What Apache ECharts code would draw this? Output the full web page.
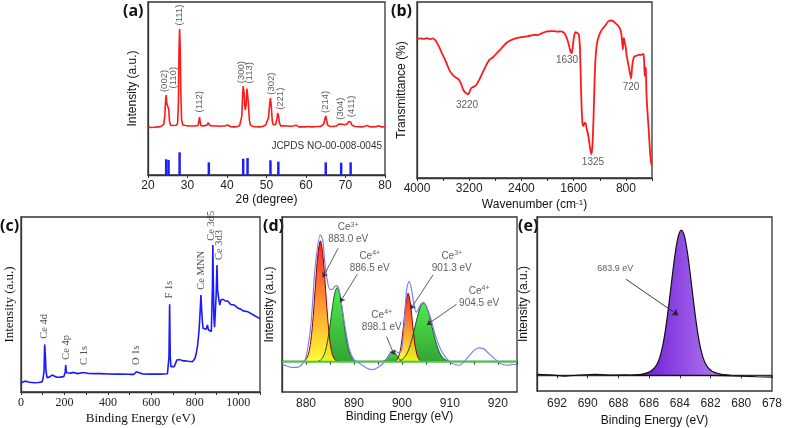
<!DOCTYPE html>
<html>
<head>
<meta charset="utf-8" />
<title>CeF3 characterization</title>
<script src="https://cdn.jsdelivr.net/npm/echarts@6/dist/echarts.min.js"></script>
<style>html,body{margin:0;padding:0;background:#fff;}</style>
</head>
<body>
<div id="main" style="width:785px;height:428px;"></div>
<script>
// (a) XRD pattern, 2theta vs intensity (a.u.)
var xrdPattern = [[20.0,27.8],[20.4,28.3],[20.8,27.5],[21.2,28.1],[21.6,27.6],[22.0,28.2],[22.4,27.8],[22.8,28.4],[23.2,27.9],[23.6,28.5],
  [24.0,29.3],[24.25,34],[24.45,43],[24.6,46.2],[24.75,41.5],[24.9,40.5],[25.1,41.6],[25.25,38],[25.45,31],[25.7,28.8],
  [26.0,28.2],[26.4,28.6],[26.8,28.1],[27.2,28.8],[27.5,30],[27.7,42],[27.85,72],[28.0,84.4],[28.15,74],[28.3,48],[28.5,32],[28.8,28.9],
  [29.1,28.2],[29.5,28.6],[29.9,27.9],[30.3,28.4],[30.7,27.8],[31.1,28.3],[31.5,27.9],[31.9,28.4],[32.3,28.0],[32.7,28.6],
  [32.9,31.5],[33.05,33.5],[33.2,31],[33.4,28.5],[33.7,28.0],[34.1,28.4],[34.5,28.1],[35.0,28.9],[35.2,30.2],[35.35,30.6],[35.5,29.5],[35.7,28.6],
  [36.0,28.1],[36.4,28.4],[36.8,27.9],[37.2,28.3],[37.6,27.8],[38.0,28.2],[38.4,27.9],[38.8,28.3],[39.2,28.0],[39.6,28.4],[39.9,28.2],
  [40.2,28.9],[40.5,28.3],[40.9,27.9],[41.3,28.3],[41.7,27.8],[42.1,28.2],[42.5,27.9],[42.9,28.4],[43.2,28.6],
  [43.5,29.2],[43.75,34],[43.95,46],[44.1,51.4],[44.3,48],[44.5,40],[44.65,37.6],[44.85,41],[45.05,50],[45.2,50.9],[45.4,42],[45.65,32],[45.9,29],
  [46.2,28.3],[46.6,28.0],[47.0,28.4],[47.4,27.9],[47.8,28.3],[48.2,27.8],[48.6,28.2],[49.0,28.0],[49.4,28.5],[49.8,28.9],[50.2,29.5],
  [50.5,33],[50.8,41],[51.0,44.5],[51.2,40],[51.45,31.5],[51.7,29],[52.0,28.6],[52.3,29.2],[52.6,32],[52.85,35.8],[53.05,34],[53.3,30],[53.6,28.4],
  [54.0,28.1],[54.4,28.4],[54.8,27.9],[55.2,28.3],[55.6,27.8],[56.0,28.2],[56.4,27.9],[56.8,28.3],[57.2,28.1],[57.5,28.8],[57.8,28.2],
  [58.2,27.8],[58.6,28.2],[59.0,27.9],[59.4,28.3],[59.8,27.8],[60.2,28.2],[60.6,28.0],[60.85,28.7],[61.1,28.1],[61.5,27.8],[61.9,28.2],
  [62.3,27.9],[62.6,28.4],[62.9,28.0],[63.3,28.3],[63.7,28.0],[64.1,28.5],[64.5,29.5],[64.8,32.5],[65.0,34.1],[65.2,32],[65.45,29],[65.7,28.3],
  [66.1,28.0],[66.5,28.4],[66.9,28.1],[67.3,28.5],[67.7,28.3],[68.1,28.8],[68.4,29.5],[68.6,30],[68.9,29],[69.2,29.3],[69.5,29.8],[69.8,29],
  [70.1,28.8],[70.5,29.6],[70.8,31],[71.1,31.8],[71.35,30.5],[71.6,28.9],[72.0,28.3],[72.4,28.0],[72.8,28.3],[73.2,27.9],[73.6,28.2],
  [74.0,27.8],[74.4,28.1],[74.8,28.0],[75.1,28.5],[75.4,28.7],[75.7,28.2],[76.1,27.9],[76.5,28.2],[76.9,27.8],[77.3,28.1],[77.7,27.9],
  [78.1,28.2],[78.4,28.5],[78.7,28.0],[79.1,27.8],[79.5,28.1],[80.0,27.9]];
var jcpdsPos = [24.6, 25.2, 28.0, 35.4, 44.1, 45.2, 51.0, 53.0, 65.0, 68.9, 71.3];
var jcpdsHeight = [9.1, 8.7, 13.1, 7.3, 9.4, 9.8, 8.5, 7.7, 7.3, 7.1, 7.3];
var hklText = ['(002)', '(110)', '(111)', '(112)', '(300)', '(113)', '(302)', '(221)', '(214)', '(304)', '(411)'];
var hklX = [24.2, 26.4, 28.0, 33.0, 43.7, 45.7, 51.2, 53.4, 65.0, 68.7, 71.5];
var hklY = [46.5, 48.6, 85.0, 34.7, 51.6, 51.4, 45.0, 36.2, 34.4, 30.5, 32.0];

// (b) FTIR, wavenumber vs transmittance
var ftirSpectrum = [[4000,79],[3950,79.3],[3900,79],[3850,79.4],[3800,78.9],[3760,79.3],[3720,78.3],[3690,76.5],[3660,74.5],[3620,71],
  [3580,68],[3540,64.5],[3500,61],[3450,58.5],[3400,57],[3360,56],[3320,53],[3290,50],[3260,48.5],[3240,48],[3220,47.5],[3200,48.5],
  [3180,50.5],[3150,51.5],[3120,52],[3090,53],[3060,55],[3030,57],[3000,59.5],[2960,62.5],[2920,65.5],[2880,67.5],[2840,68.5],[2800,70],
  [2750,72],[2700,74],[2650,76],[2600,77.5],[2550,78.5],[2500,79.2],[2400,80],[2300,80.6],[2200,81.3],[2150,81.2],[2100,82],[2050,82.8],
  [2000,83.3],[1950,83.4],[1900,83.5],[1850,83.2],[1800,83.3],[1760,82.8],[1730,81.5],[1700,79],[1680,76.5],[1660,73.5],[1645,71.5],
  [1630,71],[1615,74],[1600,79],[1585,82],[1570,82.8],[1550,82.5],[1530,82],[1520,81.5],[1505,75],[1495,62],[1480,42],[1465,31],
  [1450,29.5],[1430,31.5],[1415,31],[1400,28],[1380,25],[1360,20],[1340,15],[1325,13.5],[1310,20],[1295,35],[1280,55],[1265,68],
  [1245,76],[1220,80],[1180,83.5],[1120,86.5],[1070,89],[1020,89.5],[960,88],[900,85.5],[870,82],[855,76],[845,73],[838,79],[830,79.5],
  [820,77],[805,75],[790,70],[760,64],[740,60],[720,56.5],[705,63],[690,67],[670,69],[640,69.5],[600,70],[560,70],[530,70.5],[520,66],
  [512,58],[505,63],[495,62],[485,48],[470,38],[450,27],[430,15],[415,9],[400,7]];
var ftirBand = ['3220', '1630', '1325', '720'];
var ftirBandX = [3234, 1702, 1304, 722];
var ftirBandY = [41.2, 66.8, 8.8, 51.4];

// (c) XPS survey, binding energy vs intensity
var surveySpectrum = [[0,5.0],[5,4.6],[10,5.8],[15,6.9],[20,6.2],[30,5.9],[40,5.6],[60,5.3],[80,5.4],[97,5.8],[102,8],[106,12],[109,27.2],
  [112,21],[115,12],[120,8.2],[130,8.5],[143,9.7],[150,8.9],[165,8.4],[180,8.5],[197,8.8],[203,11],[206,15.4],[209,11],[215,10.3],
  [230,10.8],[243,11.2],[260,10.5],[280,11],[289,12],[295,11],[310,10.6],[340,10.5],[366,10.5],[400,10.3],[450,10.2],[500,10.1],
  [520,10.1],[528,10.8],[531,11.6],[535,10.6],[560,10.3],[600,10.2],[640,10.2],[674,10.4],[678,11.5],[681,20],[684,50.1],[687,20],
  [690,14.5],[695,13.5],[705,14.5],[712,16.5],[717,18.3],[725,17.3],[731,18.5],[738,18.9],[745,17.8],[755,17.9],[770,17.6],[789,17.3],
  [800,19],[805,21.1],[812,25.9],[818,33],[822,40.2],[826,50],[828,55.4],[831,48],[835,40],[838,36.4],[845,35.4],[852,35.8],[858,38.3],
  [863,35.4],[870,34.9],[876,34.6],[879,35],[881,60],[883,84],[885,65],[888,42],[891,37],[894,38],[898,55],[902,72.6],[905,58],
  [910,53.5],[915,49.7],[920,52.6],[930,53],[940,52],[951,52],[965,50],[982,49.7],[1000,47.8],[1010,47.5],[1020,46.5],[1043,45.9],
  [1070,44],[1097,42.1],[1100,41.9]];
var surveyText = ['Ce 4d', 'Ce 4p', 'C 1s', 'O 1s', 'F 1s', 'Ce MNN', 'Ce 3d5', 'Ce 3d3'];
var surveyX = [109, 206, 289, 531, 684, 828, 876, 914];
var surveyY = [29, 17, 14, 14, 52, 57, 85, 74];

// (d) Ce 3d high resolution
var ce3dEnvelope = [[875,-2],[876,-3],[877,-4],[878,-4],[879,-2.5],[880,3],[881,25],[882,68],[883,87.6],[883.5,84],[884,66],[884.5,55],
  [885,50],[885.5,50],[886,52],[886.5,52.5],[887,48],[888,27],[889,9],[890,1.5],[891,-1],[892,-3],[893,-5],[894,-5.5],[895,-4],
  [896,-1.5],[897,2.5],[898,6.5],[898.5,7.5],[899,6.5],[899.5,6],[900,9],[900.5,27],[901,50],[901.5,55.5],[902,50],[902.5,40],
  [903,34],[903.5,37],[904,40],[904.5,41],[905,39],[906,30],[907,18],[908,9],[909,3.5],[910,0],[911,-2],[912,-2.5],[913,0],[914,4],
  [915,7.5],[916,9.5],[917,9],[918,6],[919,3],[920,0],[921,-2],[922,-2.5],[923,-2],[924,-2]];
var ce3Peak883 = [[879.5,0.3],[880,1.5],[880.5,5],[881,14],[881.5,31],[882,54],[882.5,74.5],[883,83.5],[883.5,74.5],[884,54],
  [884.5,31],[885,14],[885.5,5],[886,1.5],[886.5,0.3]];
var ce4Peak886 = [[882.5,0.3],[883,1],[883.5,2.9],[884,6.9],[884.5,14.2],[885,24.9],[885.5,37.2],[886,47.3],[886.5,51.2],[887,47.3],
  [887.5,37.2],[888,24.9],[888.5,14.2],[889,6.9],[889.5,2.9],[890,1],[890.5,0.3]];
var ce4Peak898 = [[896.1,0.3],[896.6,1.3],[897.1,3.4],[897.6,6],[898.1,7.4],[898.6,6],[899.1,3.4],[899.6,1.3],[900.1,0.3]];
var ce3Peak901 = [[898.8,0.7],[899.3,3.2],[899.8,10.3],[900.3,23.7],[900.8,39.6],[901.3,47.3],[901.8,39.6],[902.3,23.7],[902.8,10.3],
  [903.3,3.2],[903.8,0.7]];
var ce4Peak904 = [[899.5,0.6],[900,1.4],[900.5,2.8],[901,5.3],[901.5,9.1],[902,14.4],[902.5,20.9],[903,27.9],[903.5,34.3],[904,38.8],
  [904.5,40.4],[905,38.8],[905.5,34.3],[906,27.9],[906.5,20.9],[907,14.4],[907.5,9.1],[908,5.3],[908.5,2.8],[909,1.4],[909.5,0.6]];
var ce3dBaseline = [[875,0],[924,0]];
var ceIon = ['3+', '4+', '4+', '3+', '4+'];
var ceEnergy = ['883.0 eV', '886.5 eV', '898.1 eV', '901.3 eV', '904.5 eV'];
var ceLabelX = [888.8, 893.3, 895.8, 910.4, 916.1];
var ceLabelY = [88.8, 68.9, 28.1, 69, 44.7];
var ceArrows = [[886.7,78.4,883.5,58.1],[890.7,60.4,887.1,41.1],[896.8,17.3,898.4,4.6],[906.5,60,901.8,36.2],[911.4,39.7,905.2,25.4]];

// (e) F 1s high resolution
var f1sPeak = [[687.1,0],[686.7,0.4],[686.3,1.0],[685.9,2.4],[685.7,3.8],[685.5,6.2],[685.3,10.5],[685.1,17.6],[684.9,28.3],[684.7,41.8],
  [684.5,56.6],[684.3,70.2],[684.1,80],[683.9,83.5],[683.7,80],[683.5,70.2],[683.3,56.6],[683.1,41.8],[682.9,28.3],[682.7,17.6],
  [682.5,10.5],[682.3,6.2],[682.1,3.8],[681.9,2.4],[681.5,1.0],[681.1,0.4],[680.7,0]];
var f1sBaseline = [[693.3,0.6],[692.5,0.3],[691.5,-0.4],[690.5,0.2],[689.5,0.5],[688.5,0.1],[687.5,0.3],[686.5,0],[682,0],[681,-0.2],
  [680,-0.5],[679,-0.8],[678,-1.0]];
var f1sLabel = [[688.2, 61.3, '683.9 eV']];
var f1sArrow = [[687.5, 55.2, 684.1, 34.5]];

var sans = 'Liberation Sans, Arial, sans-serif';
var serif = 'Liberation Serif, Times New Roman, serif';

function xAx(gi, o) {
  var a = {
    gridIndex: gi, type: 'value', nameLocation: 'middle',
    nameTextStyle: {fontFamily: sans, fontSize: 12, color: '#111'},
    axisLine: {show: true, lineStyle: {color: '#333', width: 1.3}},
    axisTick: {show: true, length: 3, lineStyle: {color: '#333'}},
    axisLabel: {fontFamily: sans, fontSize: 12, color: '#222', margin: 5},
    splitLine: {show: false}
  };
  for (var k in o) a[k] = o[k];
  return a;
}
function yAx(gi, mn, mx, gap, font, fs) {
  return {
    gridIndex: gi, type: 'value', min: mn, max: mx, name: 'Intensity (a.u.)', nameLocation: 'middle', nameGap: gap,
    nameTextStyle: {fontFamily: font, fontSize: fs, color: '#111'},
    axisLine: {show: true, lineStyle: {color: '#333', width: 1.3}},
    axisTick: {show: false}, axisLabel: {show: false}, splitLine: {show: false}
  };
}
function gridBox(l, t, w, h) {
  return {left: l, top: t, width: w, height: h, show: true, borderColor: '#333', borderWidth: 1.3, backgroundColor: 'transparent'};
}
function peakArea(data, top, bottom, edge) {
  return {
    type: 'line', xAxisIndex: 3, yAxisIndex: 3, data: data, smooth: 0.3, symbol: 'none',
    lineStyle: {color: edge, width: 1},
    areaStyle: {opacity: 0.9, color: new echarts.graphic.LinearGradient(0, 0, 0, 1, [{offset: 0, color: top}, {offset: 1, color: bottom}])}
  };
}

var chart = echarts.init(document.getElementById('main'));
chart.setOption({
  animation: false,
  backgroundColor: '#fff',
  grid: [gridBox(148, 2, 237, 173), gridBox(417, 2, 235, 176), gridBox(21, 217, 239, 175), gridBox(282, 217, 235, 175), gridBox(537, 217, 238, 174)],
  xAxis: [
    xAx(0, {min: 20, max: 80, interval: 10, name: '2\u03b8 (degree)', nameGap: 19}),
    xAx(1, {min: 400, max: 4000, interval: 400, inverse: true, name: 'Wavenumber (cm{s|-1})', nameGap: 21,
      nameTextStyle: {fontFamily: sans, fontSize: 12, color: '#111', rich: {s: {fontFamily: sans, fontSize: 8, verticalAlign: 'top', color: '#111'}}},
      axisLabel: {fontFamily: sans, fontSize: 12, color: '#222', margin: 5, formatter: function (v) { return v % 800 === 0 ? v : ''; }}}),
    xAx(2, {min: 0, max: 1100, interval: 100, name: 'Binding Energy (eV)', nameGap: 20,
      nameTextStyle: {fontFamily: serif, fontSize: 13, color: '#111'},
      axisLabel: {fontFamily: serif, fontSize: 12, color: '#222', margin: 5, formatter: function (v) { return v % 200 === 0 ? v : ''; }}}),
    xAx(3, {min: 875, max: 924, interval: 5, name: 'Binding Energy (eV)', nameGap: 19,
      axisLabel: {fontFamily: sans, fontSize: 12, color: '#222', margin: 6, formatter: function (v) { return v % 10 === 0 ? v : ''; }}}),
    xAx(4, {min: 678, max: 693.3, interval: 2, inverse: true, name: 'Binding Energy (eV)', nameGap: 24,
      axisLabel: {fontFamily: sans, fontSize: 12, color: '#222', margin: 7, formatter: function (v) { return v % 2 === 0 ? v : ''; }}})
  ],
  yAxis: [
    yAx(0, 0, 100, 9, sans, 12),
    (function () { var y = yAx(1, 0, 100, 9, sans, 12); y.name = 'Transmittance (%)'; return y; })(),
    yAx(2, 0, 100, 5, serif, 13),
    yAx(3, -21, 100, 6, sans, 12),
    yAx(4, -9, 91, 7, sans, 12)
  ],
  series: [
    // (a)
    {type: 'line', xAxisIndex: 0, yAxisIndex: 0, data: xrdPattern, symbol: 'none', lineStyle: {color: '#ff1a1a', width: 1.6}},
    {type: 'bar', xAxisIndex: 0, yAxisIndex: 0, barWidth: 2.5, itemStyle: {color: '#2020f0'},
      data: jcpdsPos.map(function (x, i) { return [x, jcpdsHeight[i]]; })},
    {type: 'scatter', xAxisIndex: 0, yAxisIndex: 0, symbolSize: 1, itemStyle: {color: 'transparent'}, silent: true,
      data: hklX.map(function (x, i) { return [x, hklY[i], hklText[i]]; }),
      label: {show: true, position: 'top', distance: 2, rotate: 90, align: 'left', verticalAlign: 'middle',
        fontFamily: sans, fontSize: 9.5, color: '#333', formatter: function (p) { return p.data[2]; }}},
    // (b)
    {type: 'line', xAxisIndex: 1, yAxisIndex: 1, data: ftirSpectrum, symbol: 'none', smooth: 0.2, lineStyle: {color: '#ff1a1a', width: 1.8}},
    {type: 'scatter', xAxisIndex: 1, yAxisIndex: 1, symbolSize: 1, itemStyle: {color: 'transparent'}, silent: true,
      data: ftirBandX.map(function (x, i) { return [x, ftirBandY[i], ftirBand[i]]; }),
      label: {show: true, position: 'inside', fontFamily: sans, fontSize: 10, color: '#333', formatter: function (p) { return p.data[2]; }}},
    // (c)
    {type: 'line', xAxisIndex: 2, yAxisIndex: 2, data: surveySpectrum, symbol: 'none', lineStyle: {color: '#1a1aff', width: 1.6}},
    {type: 'scatter', xAxisIndex: 2, yAxisIndex: 2, symbolSize: 1, itemStyle: {color: 'transparent'}, silent: true,
      data: surveyX.map(function (x, i) { return [x, surveyY[i], surveyText[i]]; }),
      label: {show: true, position: 'top', distance: 2, rotate: 90, align: 'left', verticalAlign: 'middle',
        fontFamily: serif, fontSize: 10.5, color: '#222', formatter: function (p) { return p.data[2]; }}},
    // (d)
    peakArea(ce4Peak886, '#3ae83a', '#1e9a1e', '#145a14'),
    peakArea(ce4Peak904, '#3ae83a', '#1e9a1e', '#145a14'),
    peakArea(ce4Peak898, '#3ae83a', '#1e9a1e', '#145a14'),
    peakArea(ce3Peak883, '#ff1010', '#ffff20', '#8b0000'),
    peakArea(ce3Peak901, '#ff1010', '#ffff20', '#8b0000'),
    {type: 'line', xAxisIndex: 3, yAxisIndex: 3, data: ce3dEnvelope, smooth: 0.3, symbol: 'none', lineStyle: {color: '#8080f0', width: 1.2}},
    {type: 'line', xAxisIndex: 3, yAxisIndex: 3, data: ce3dBaseline, symbol: 'none', lineStyle: {color: '#33d633', width: 1.6}},
    {type: 'scatter', xAxisIndex: 3, yAxisIndex: 3, symbolSize: 1, itemStyle: {color: 'transparent'}, silent: true,
      data: ceLabelX.map(function (x, i) { return [x, ceLabelY[i], ceIon[i], ceEnergy[i]]; }),
      label: {show: true, position: 'inside', fontFamily: sans, fontSize: 10, color: '#333', lineHeight: 12, align: 'center',
        formatter: function (p) { return '{n|Ce}{s|' + p.data[2] + '}\n' + p.data[3]; },
        rich: {n: {fontFamily: sans, fontSize: 10, color: '#333', lineHeight: 12}, s: {fontFamily: sans, fontSize: 7, color: '#333', verticalAlign: 'top', lineHeight: 12}}},
      markLine: {silent: true, symbol: ['none', 'arrow'], symbolSize: 5, label: {show: false},
        lineStyle: {color: '#333', width: 0.8, type: 'solid'},
        data: ceArrows.map(function (a) { return [{coord: [a[0], a[1]]}, {coord: [a[2], a[3]]}]; })}},
    // (e)
    {type: 'line', xAxisIndex: 4, yAxisIndex: 4, data: f1sPeak, smooth: 0.3, symbol: 'none', lineStyle: {color: '#111', width: 1.2},
      areaStyle: {opacity: 1, color: new echarts.graphic.LinearGradient(0, 0, 1, 0, [{offset: 0, color: '#6410d4'}, {offset: 1, color: '#bd86f2'}])}},
    {type: 'line', xAxisIndex: 4, yAxisIndex: 4, data: f1sBaseline, symbol: 'none', lineStyle: {color: '#111', width: 1.2}},
    {type: 'scatter', xAxisIndex: 4, yAxisIndex: 4, symbolSize: 1, itemStyle: {color: 'transparent'}, silent: true,
      data: f1sLabel,
      label: {show: true, position: 'inside', fontFamily: sans, fontSize: 9, color: '#333', formatter: function (p) { return p.data[2]; }},
      markLine: {silent: true, symbol: ['none', 'arrow'], symbolSize: 6, label: {show: false},
        lineStyle: {color: '#222', width: 0.9, type: 'solid'},
        data: f1sArrow.map(function (a) { return [{coord: [a[0], a[1]]}, {coord: [a[2], a[3]]}]; })}}
  ],
  graphic: [
    {type: 'text', left: 123, top: 3, style: {text: '(a)', font: 'bold 16px Open Sans, sans-serif', fill: '#111'}},
    {type: 'text', left: 391, top: 3, style: {text: '(b)', font: 'bold 16px Open Sans, sans-serif', fill: '#111'}},
    {type: 'text', left: 0, top: 218, style: {text: '(c)', font: 'bold 16px Open Sans, sans-serif', fill: '#111'}},
    {type: 'text', left: 263, top: 218, style: {text: '(d)', font: 'bold 16px Open Sans, sans-serif', fill: '#111'}},
    {type: 'text', left: 518, top: 218, style: {text: '(e)', font: 'bold 16px Open Sans, sans-serif', fill: '#111'}},
    {type: 'text', x: 382, y: 146, style: {text: 'JCPDS NO-00-008-0045', font: '10px Liberation Sans, Arial, sans-serif', fill: '#333', textAlign: 'right', textVerticalAlign: 'middle'}}
  ]
});
</script>
</body>
</html>
